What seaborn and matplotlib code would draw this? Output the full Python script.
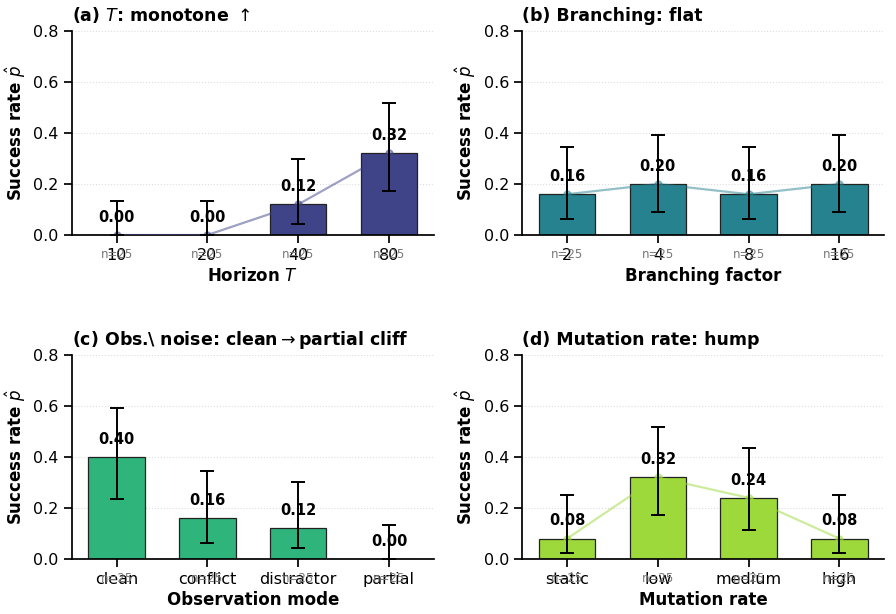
"""Success-rate ablation panels (2x2): bars + Wilson CI + trend line."""

import numpy as np
import pandas as pd
import matplotlib
matplotlib.use("Agg")
import matplotlib.pyplot as plt
import seaborn as sns

# --- data ---
horizon_levels = ["10", "20", "40", "80"]
horizon_rate = [0.00, 0.00, 0.12, 0.32]
horizon_lo = [0.000, 0.000, 0.042, 0.172]
horizon_hi = [0.133, 0.133, 0.300, 0.516]

branch_levels = ["2", "4", "8", "16"]
branch_rate = [0.16, 0.20, 0.16, 0.20]
branch_lo = [0.064, 0.089, 0.064, 0.089]
branch_hi = [0.347, 0.391, 0.347, 0.391]

obs_levels = ["clean", "conflict", "distractor", "partial"]
obs_rate = [0.40, 0.16, 0.12, 0.00]
obs_lo = [0.234, 0.064, 0.042, 0.000]
obs_hi = [0.593, 0.347, 0.300, 0.133]

mut_levels = ["static", "low", "medium", "high"]
mut_rate = [0.08, 0.32, 0.24, 0.08]
mut_lo = [0.022, 0.172, 0.115, 0.022]
mut_hi = [0.250, 0.516, 0.434, 0.250]

n_trials = [25, 25, 25, 25]

# (title, xlabel, levels, rate, lo, hi, colour, draw trend line)
panels = [
    ("(a) $T$: monotone $\\uparrow$", "Horizon $T$", horizon_levels, horizon_rate, horizon_lo, horizon_hi, "#3f4488", True),
    ("(b) Branching: flat", "Branching factor", branch_levels, branch_rate, branch_lo, branch_hi, "#26828e", True),
    ("(c) Obs.\\ noise: clean$\\rightarrow$partial cliff", "Observation mode", obs_levels, obs_rate, obs_lo, obs_hi, "#2fb47c", False),
    ("(d) Mutation rate: hump", "Mutation rate", mut_levels, mut_rate, mut_lo, mut_hi, "#9dd93b", True),
]

sns.set_theme(style="ticks")
plt.rcParams["font.family"] = ["DejaVu Sans"]
plt.rcParams["mathtext.fontset"] = "dejavusans"
for key in ["text.color", "axes.labelcolor", "xtick.color", "ytick.color", "axes.edgecolor"]:
    plt.rcParams[key] = "black"

fig, axes = plt.subplots(2, 2, figsize=(8.96, 6.14), dpi=100)
fig.subplots_adjust(left=72 / 896, right=884 / 896, top=1 - 31 / 614,
                    bottom=1 - 559 / 614, wspace=0.246, hspace=0.588)

for ax, (title, xlabel, levels, rate, lo, hi, color, trend) in zip(axes.flat, panels):
    df = pd.DataFrame({"level": levels, "rate": rate})
    sns.barplot(data=df, x="level", y="rate", color=color, width=0.62, saturation=1,
                edgecolor="#222222", linewidth=0.9, ax=ax, zorder=2)

    xs = np.arange(len(levels))
    rate_a = np.array(rate)
    if trend:
        ax.plot(xs, rate_a, "-o", color=color, alpha=0.5, lw=1.6, ms=5, zorder=3)

    yerr = np.vstack([rate_a - np.array(lo), np.array(hi) - rate_a])
    ax.errorbar(xs, rate_a, yerr=yerr, fmt="none", ecolor="black",
                elinewidth=1.4, capsize=5, capthick=1.4, zorder=4)

    for x, r in zip(xs, rate):
        ax.text(x, r + 0.04, f"{r:.2f}", ha="center", va="bottom",
                fontsize=10.5, fontweight="bold", zorder=5)
        ax.text(x, -0.075, f"n={n_trials[x]}", ha="center", va="center",
                fontsize=8.5, color="#777777", zorder=5)

    ax.set_ylim(0, 0.8)
    ax.set_yticks([0.0, 0.2, 0.4, 0.6, 0.8])
    ax.yaxis.grid(True, linestyle=":", color="#dddddd", lw=0.8)
    ax.set_axisbelow(True)
    ax.tick_params(labelsize=11.5)
    ax.set_title(title, loc="left", fontsize=12.5, fontweight="bold", pad=7)
    ax.set_xlabel(xlabel, fontsize=12, fontweight="bold", labelpad=3)
    ax.set_ylabel("Success rate $\\hat{p}$", fontsize=12, fontweight="bold")
    sns.despine(ax=ax)

fig.savefig("out.png", dpi=100)
